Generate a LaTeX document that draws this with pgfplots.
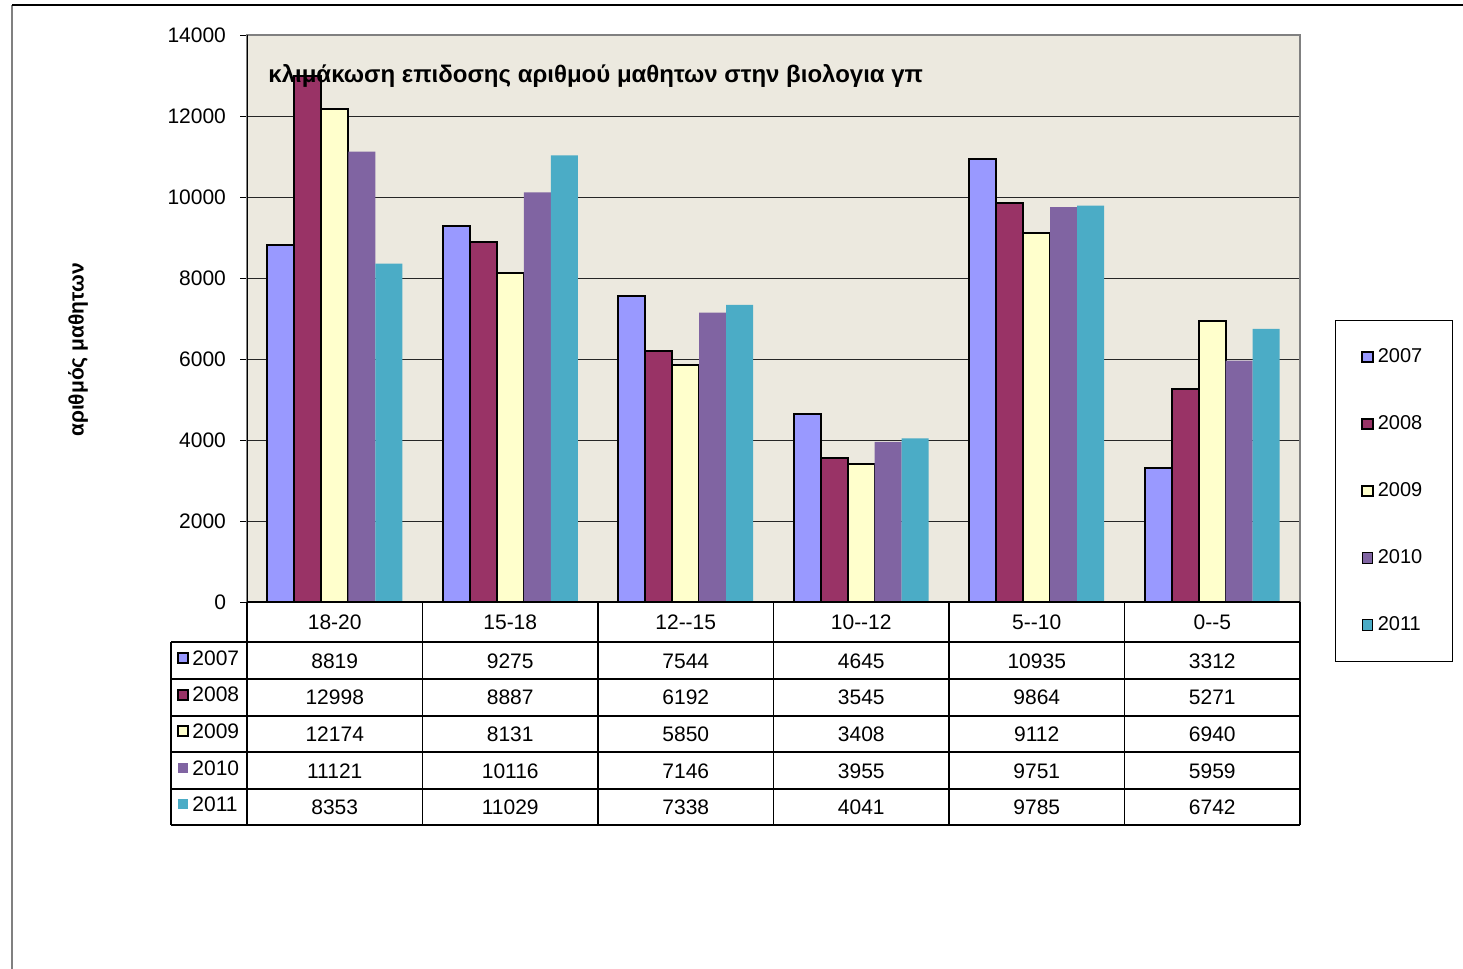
\documentclass[border=0pt]{standalone}
\usepackage{pgfplots}
\pgfplotsset{compat=1.18}
\usepackage{pgfplotstable}
\usepackage{fontspec}
\setmainfont{Liberation Sans}
\definecolor{c07}{HTML}{9999FF}
\definecolor{c08}{HTML}{993366}
\definecolor{c09}{HTML}{FFFFCC}
\definecolor{c10}{HTML}{8064A2}
\definecolor{c11}{HTML}{4BACC6}
\definecolor{plotbg}{HTML}{ECE9DF}

\pgfplotstableread{
x y2007 y2008 y2009 y2010 y2011
0 8819 12998 12174 11121 8353
1 9275 8887 8131 10116 11029
2 7544 6192 5850 7146 7338
3 4645 3545 3408 3955 4041
4 10935 9864 9112 9751 9785
5 3312 5271 6940 5959 6742
}\data

\begin{document}
\begin{tikzpicture}[x=0.5pt,y=-0.5pt]
\useasboundingbox (0,0) rectangle (1463,969);
\draw[gray, line width=1pt] (12,969) -- (12,5);
\draw[black, line width=1pt] (12,5) -- (1463,5);
\begin{axis}[at={(123.5pt,-301pt)}, anchor=south west, scale only axis,
  width=526.5pt, height=283.5pt,
  ybar=0pt, bar width=13.5pt,
  xmin=-0.5, xmax=5.5, ymin=0, ymax=14000,
  ytick={0,2000,...,14000}, xtick=\empty,
  scaled y ticks=false,
  yticklabel={\pgfmathprintnumber[fixed,precision=0,1000 sep={}]{\tick}},
  ymajorgrids, grid style={black!85, line width=0.5pt},
  axis background/.style={fill=plotbg},
  axis line style={gray, line width=1pt},
  tick align=outside, ytick pos=left, major tick length=3.5pt,
  tick style={black, line width=0.5pt},
  yticklabel style={font=\fontsize{10.5}{12}\selectfont, xshift=-3.5pt},
  /pgf/number format/assume math mode=true,
  /pgf/number format/1000 sep={},
  legend image code/.code={\draw[#1] (0pt,-2.6pt) rectangle (5.2pt,2.6pt);},
  legend style={at={(1.0332,0.497)}, anchor=north west, draw=black, line width=0.5pt,
    font=\fontsize{10}{12}\selectfont, inner xsep=13pt, inner ysep=12pt, row sep=21pt},
  legend cell align=left,
]
\addplot[fill=c07, draw=black, line width=1pt] table[x=x,y=y2007]{\data};
\addplot[fill=c08, draw=black, line width=1pt] table[x=x,y=y2008]{\data};
\addplot[fill=c09, draw=black, line width=1pt] table[x=x,y=y2009]{\data};
\addplot[fill=c10, draw=none] table[x=x,y=y2010]{\data};
\addplot[fill=c11, draw=none] table[x=x,y=y2011]{\data};
\legend{2007,2008,2009,2010,2011}
\draw[black, line width=1pt] (rel axis cs:0,1) -- (rel axis cs:0,0) -- (rel axis cs:1,0);
\end{axis}
% data table
\foreach \k in {0,...,6} \draw[line width=0.7pt] ({247+175.5*\k},602) -- ({247+175.5*\k},825);
\draw[line width=0.7pt] (171,642) -- (171,825);
\foreach \yy in {642,679,716,752,789,825} \draw[line width=0.7pt] (171,\yy) -- (1300,\yy);
\foreach \k/\lab in {0/18-20, 1/15-18, 2/12-\kern0pt-15, 3/10-\kern0pt-12, 4/5-\kern0pt-10, 5/0-\kern0pt-5}
  \node[font=\fontsize{10.5}{12}\selectfont] at ({247+175.5*(\k+0.5)},622) {\lab};
\foreach \r in {0,...,5} {
  \foreach \c [count=\i from 0] in {y2007,y2008,y2009,y2010,y2011} {
    \pgfplotstablegetelem{\r}{\c}\of\data
    \node[font=\fontsize{10.5}{12}\selectfont] at ({247+175.5*(\r+0.5)},{661+36.6*\i}) {\pgfplotsretval};
  }
}
\foreach \lab/\col/\dr [count=\i from 0] in {2007/c07/black, 2008/c08/black, 2009/c09/black, 2010/c10/none, 2011/c11/none} {
  \draw[fill=\col, draw=\dr, line width=1pt] (178,{658+36.6*\i-5}) rectangle (188,{658+36.6*\i+5});
  \node[anchor=west, inner sep=0pt, font=\fontsize{10.5}{12}\selectfont] at (192,{658+36.6*\i}) {\lab};
}
\node[anchor=west, inner sep=0pt, font=\bfseries\fontsize{12}{14}\selectfont] at (268,76)
  {κλιμάκωση επιδοσης αριθμού μαθητων στην βιολογια γπ};
\node[rotate=90, font=\bfseries\fontsize{10.5}{12}\selectfont] at (78,350) {αριθμός μαθητων};
\end{tikzpicture}
\end{document}
